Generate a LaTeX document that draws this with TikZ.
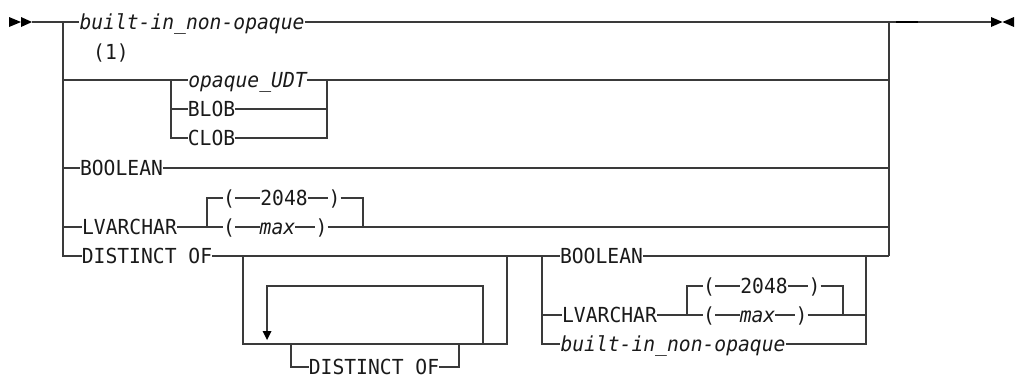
\documentclass[tikz,border=0pt]{standalone}
\usepackage{fontspec}
\newfontfamily\rrmono[FakeStretch=0.95]{DejaVu Sans Mono}
\definecolor{lncol}{HTML}{3A3A3A}
\definecolor{txcol}{HTML}{1A1A1A}
\tikzset{
  kw/.style={inner sep=0pt, text height=15.1pt, text depth=0pt, text=txcol,
    font=\rrmono\fontsize{20.7}{21}\selectfont},
  var/.style={kw, font=\rrmono\itshape\fontsize{20.7}{21}\selectfont},
  rail/.style={draw=lncol, line width=1.1pt},
  tip/.style={fill=black, draw=none}
}
\begin{document}
\begin{tikzpicture}[x=1pt,y=-1pt]
\useasboundingbox (0,0) rectangle (1016,380);
% start / end
\coordinate (start) at (32,22);
\coordinate (endp) at (991,22);
\fill[tip] (9,17) -- (9,27) -- (21,22) -- cycle;
\fill[tip] (21,17) -- (21,27) -- (32,22) -- cycle;
\fill[tip] (991,17) -- (991,27) -- (1002.5,22) -- cycle;
\fill[tip] (1014,17) -- (1014,27) -- (1002.5,22) -- cycle;

% nodes
\node[var] (bi1) at (192,22) {built-in\_non-opaque};
\node[kw] (note) at (111,52) {(1)};
\node[var] (opq) at (247.5,80) {opaque\_UDT};
\node[kw] (blob) at (211.5,109) {BLOB};
\node[kw] (clob) at (211.5,138) {CLOB};
\node[kw] (bool1) at (121.5,168) {BOOLEAN};
\node[kw] (lv1) at (129.5,227) {LVARCHAR};
\node[kw] (lp1) at (229,198) {(};
\node[kw] (n1) at (284,198) {2048};
\node[kw] (rp1) at (334.5,198) {)};
\node[kw] (lp2) at (229,227) {(};
\node[var] (mx1) at (277.5,227) {max};
\node[kw] (rp2) at (321.5,227) {)};
\node[kw] (dist1) at (147,256) {DISTINCT OF};
\node[kw] (dist2) at (374,367) {DISTINCT OF};
\node[kw] (bool2) at (601.5,256) {BOOLEAN};
\node[kw] (lv2) at (609.5,315) {LVARCHAR};
\node[kw] (lp3) at (709,286) {(};
\node[kw] (n2) at (764,286) {2048};
\node[kw] (rp3) at (814.5,286) {)};
\node[kw] (lp4) at (709,315) {(};
\node[var] (mx2) at (757.5,315) {max};
\node[kw] (rp4) at (801.5,315) {)};
\node[var] (bi2) at (673,344) {built-in\_non-opaque};

% main rails
\draw[rail] (start) -- (bi1.west);
\draw[rail] (bi1.east) -- (endp);
\draw[rail] (63,22) -- (63,256) -- (dist1.west);
\draw[rail] (889,22) -- (889,256);
\draw[draw=black, line width=2pt] (896,22) -- (918,22);

% opaque group
\draw[rail] (63,80) -- (171,80) -- (opq.west);
\draw[rail] (opq.east) -- (889,80);
\draw[rail] (171,80) -- (171,138) -- (clob.west);
\draw[rail] (171,109) -- (blob.west);
\draw[rail] (blob.east) -- (327,109);
\draw[rail] (clob.east) -- (327,138) -- (327,80);

% boolean
\draw[rail] (63,168) -- (bool1.west);
\draw[rail] (bool1.east) -- (889,168);

% lvarchar 1
\draw[rail] (63,227) -- (lv1.west);
\draw[rail] (lv1.east) -- (207,227) -- (lp2.west);
\draw[rail] (207,227) -- (207,198) -- (lp1.west);
\draw[rail] (lp1.east) -- (n1.west);
\draw[rail] (n1.east) -- (rp1.west);
\draw[rail] (rp1.east) -- (363,198) -- (363,227);
\draw[rail] (lp2.east) -- (mx1.west);
\draw[rail] (mx1.east) -- (rp2.west);
\draw[rail] (rp2.east) -- (889,227);

% distinct of
\draw[rail] (dist1.east) -- (bool2.west);
\draw[rail] (bool2.east) -- (889,256);
\draw[rail] (243,256) -- (243,344) -- (507,344) -- (507,256);
\draw[rail] (483,344) -- (483,286) -- (267,286) -- (267,332);
\fill[tip] (262.5,331) -- (271.5,331) -- (267,340) -- cycle;
\draw[rail] (291,344) -- (291,367) -- (dist2.west);
\draw[rail] (dist2.east) -- (459,367) -- (459,344);

% second choice
\draw[rail] (542,256) -- (542,344) -- (bi2.west);
\draw[rail] (542,315) -- (lv2.west);
\draw[rail] (bi2.east) -- (866,344) -- (866,256);
\draw[rail] (lv2.east) -- (687,315) -- (lp4.west);
\draw[rail] (687,315) -- (687,286) -- (lp3.west);
\draw[rail] (lp3.east) -- (n2.west);
\draw[rail] (n2.east) -- (rp3.west);
\draw[rail] (rp3.east) -- (843,286) -- (843,315);
\draw[rail] (lp4.east) -- (mx2.west);
\draw[rail] (mx2.east) -- (rp4.west);
\draw[rail] (rp4.east) -- (866,315);
\end{tikzpicture}
\end{document}
